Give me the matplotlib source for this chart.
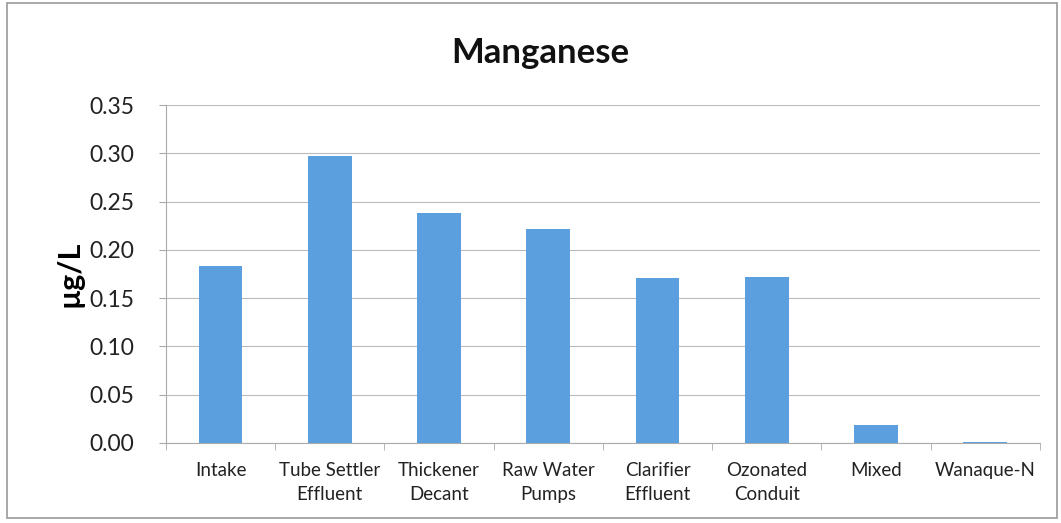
import matplotlib
matplotlib.use('Agg')
import matplotlib.pyplot as plt
from matplotlib.patches import Rectangle
import numpy as np

plt.rcParams['font.family'] = ['Lato', 'DejaVu Sans']

# values (ug/L)
sites = ['Intake', 'Tube Settler\nEffluent', 'Thickener\nDecant', 'Raw Water\nPumps',
         'Clarifier\nEffluent', 'Ozonated\nConduit', 'Mixed', 'Wanaque-N']
manganese = [0.183, 0.297, 0.238, 0.222, 0.171, 0.172, 0.019, 0.001]
yticks = [0.00, 0.05, 0.10, 0.15, 0.20, 0.25, 0.30, 0.35]

fig = plt.figure(figsize=(10.61, 5.23), dpi=100)
ax = fig.add_axes([0.1565, 0.153, 0.8235, 0.646])

x = np.arange(len(sites))
ax.bar(x, manganese, width=0.4, color='#5b9fdf', zorder=3)

ax.set_xlim(-0.5, len(sites) - 0.5)
ax.set_ylim(0, 0.35)
ax.set_yticks(yticks)
ax.set_yticklabels(['%.2f' % v for v in yticks], fontsize=16.5, color='#222222')
ax.set_xticks(x)
ax.set_xticklabels(sites, fontsize=13.5, color='#222222', linespacing=1.45)
ax.set_xticks(np.arange(-0.5, len(sites)), minor=True)
ax.tick_params(axis='x', which='major', length=0, pad=14)
ax.tick_params(axis='x', which='minor', length=5, color='#aaaaaa', direction='out')
ax.tick_params(axis='y', length=5, color='#aaaaaa', pad=18)

ax.grid(axis='y', color='#bbbbbb', linewidth=0.8, zorder=0)
for s in ['top', 'right']:
    ax.spines[s].set_visible(False)
ax.spines['left'].set_color('#aaaaaa')
ax.spines['bottom'].set_color('#aaaaaa')

ax.set_ylabel('µg/L', fontsize=22, fontweight='bold', labelpad=4)
fig.text(0.509, 0.899, 'Manganese', ha='center', va='center',
         fontsize=25, fontweight='bold', color='#111111')

# chart area border
fig.patches.append(Rectangle((0.0066, 0.01), 0.99, 0.984, transform=fig.transFigure,
                             fill=False, edgecolor='#999999', linewidth=1.2))

fig.savefig('out.png', dpi=100)
